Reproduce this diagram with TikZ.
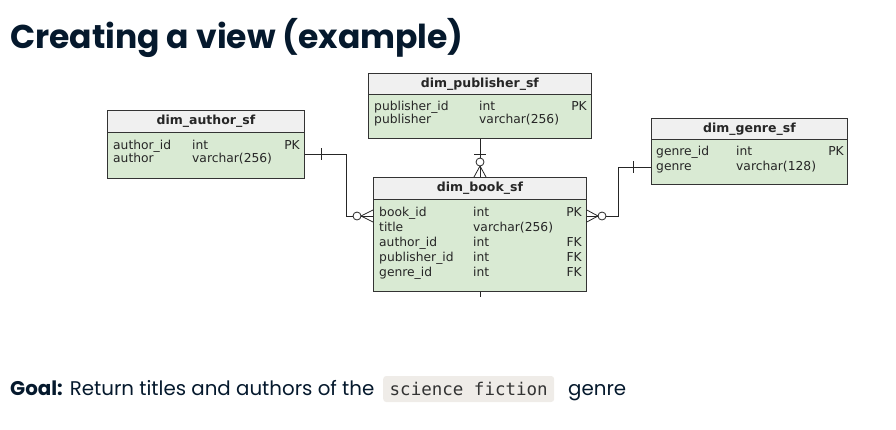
\documentclass[tikz,border=0pt]{standalone}
\usepackage{fontspec}
\setmainfont{Poppins}[Ligatures={NoCommon}]
\newfontfamily\tabfont{DejaVu Sans}
\newfontfamily\codefont{DejaVu Sans Mono}
\usetikzlibrary{calc}
\definecolor{ink}{HTML}{05192D}
\definecolor{edge}{HTML}{333333}
\definecolor{headfill}{HTML}{F0F0F0}
\definecolor{bodyfill}{HTML}{D9EAD3}
\definecolor{codefill}{HTML}{EFECE8}
\tikzset{
  tabhead/.style={draw=edge, fill=headfill, line width=0.8pt, anchor=north west,
    inner sep=0pt, font=\tabfont\bfseries\fontsize{12.5}{14}\selectfont, text=black!85},
  tabbody/.style={draw=edge, fill=bodyfill, line width=0.8pt, anchor=north west, inner sep=0pt},
  cell/.style={anchor=base west, inner sep=0pt, font=\tabfont\fontsize{12.3}{14}\selectfont, text=black!85},
  keycell/.style={anchor=base east, inner sep=0pt, font=\tabfont\fontsize{12.3}{14}\selectfont, text=black!85},
  link/.style={draw=black!85, line width=0.8pt},
  opt/.style={draw=black!85, line width=0.8pt, fill=white},
}
\begin{document}
\begin{tikzpicture}[x=1pt, y=-1pt]
\useasboundingbox (0,0) rectangle (896,429);

% title
\node[anchor=base west, inner sep=0pt, text=ink, font=\bfseries\fontsize{33}{38}\selectfont] (title) at (10,48) {Creating a view (example)};

% dim_author_sf
\node[tabhead, minimum width=197pt, minimum height=22pt] (ahead) at (107,110) {dim\_author\_sf};
\node[tabbody, minimum width=197pt, minimum height=46pt] (abody) at (107,132) {};
\node[cell] (a1n) at (113,149) {author\_id};
\node[cell] (a1t) at (192,149) {int};
\node[keycell] (a1k) at (300,149) {PK};
\node[cell] (a2n) at (113,162) {author};
\node[cell] (a2t) at (192,162) {varchar(256)};

% dim_publisher_sf
\node[tabhead, minimum width=223pt, minimum height=21pt] (phead) at (368,73) {dim\_publisher\_sf};
\node[tabbody, minimum width=223pt, minimum height=44pt] (pbody) at (368,94) {};
\node[cell] (p1n) at (374,110) {publisher\_id};
\node[cell] (p1t) at (479,110) {int};
\node[keycell] (p1k) at (587,110) {PK};
\node[cell] (p2n) at (374,123) {publisher};
\node[cell] (p2t) at (479,123) {varchar(256)};

% dim_book_sf
\node[tabhead, minimum width=213pt, minimum height=22pt] (bhead) at (373,177) {dim\_book\_sf};
\node[tabbody, minimum width=213pt, minimum height=92pt] (bbody) at (373,199) {};
\node[cell] (b1n) at (379,216) {book\_id};
\node[cell] (b1t) at (473,216) {int};
\node[keycell] (b1k) at (582,216) {PK};
\node[cell] (b2n) at (379,231) {title};
\node[cell] (b2t) at (473,231) {varchar(256)};
\node[cell] (b3n) at (379,246) {author\_id};
\node[cell] (b3t) at (473,246) {int};
\node[keycell] (b3k) at (582,246) {FK};
\node[cell] (b4n) at (379,261) {publisher\_id};
\node[cell] (b4t) at (473,261) {int};
\node[keycell] (b4k) at (582,261) {FK};
\node[cell] (b5n) at (379,276) {genre\_id};
\node[cell] (b5t) at (473,276) {int};
\node[keycell] (b5k) at (582,276) {FK};

% dim_genre_sf
\node[tabhead, minimum width=196pt, minimum height=21pt] (ghead) at (651,118) {dim\_genre\_sf};
\node[tabbody, minimum width=196pt, minimum height=45pt] (gbody) at (651,139) {};
\node[cell] (g1n) at (656,155) {genre\_id};
\node[cell] (g1t) at (736,155) {int};
\node[keycell] (g1k) at (844,155) {PK};
\node[cell] (g2n) at (656,170) {genre};
\node[cell] (g2t) at (736,170) {varchar(128)};

% relationship: author -> book
\coordinate (ajoin) at (357,216);
\draw[link] (abody.east |- 0,154) -- (346,154) -- (346,216) -- ($(ajoin)+(-4,0)$);
\draw[link] (321,148) -- (321,160);
\draw[link] ($(ajoin)+(4,0)$) -- (bbody.west |- 0,210);
\draw[link] ($(ajoin)+(4,0)$) -- (bbody.west |- 0,216);
\draw[link] ($(ajoin)+(4,0)$) -- (bbody.west |- 0,222);
\draw[opt] (ajoin) circle (4pt);

% relationship: genre -> book
\coordinate (gjoin) at (602,216);
\draw[link] (gbody.west |- 0,167) -- (618,167) -- (618,216) -- ($(gjoin)+(4,0)$);
\draw[link] (633,161) -- (633,173);
\draw[link] ($(gjoin)+(-4,0)$) -- (bbody.east |- 0,210);
\draw[link] ($(gjoin)+(-4,0)$) -- (bbody.east |- 0,216);
\draw[link] ($(gjoin)+(-4,0)$) -- (bbody.east |- 0,222);
\draw[opt] (gjoin) circle (4pt);

% relationship: publisher -> book
\coordinate (pjoin) at (480,162);
\draw[link] (pbody.south -| pjoin) -- ($(pjoin)+(0,-4)$);
\draw[link] (474,154) -- (486,154);
\draw[link] ($(pjoin)+(0,4)$) -- (474,177);
\draw[link] ($(pjoin)+(0,4)$) -- (bhead.north -| pjoin);
\draw[link] ($(pjoin)+(0,4)$) -- (486,177);
\draw[opt] (pjoin) circle (4pt);

% short stub under the book table
\coordinate (bstub) at (480,297);
\draw[link] (bbody.south -| bstub) -- (bstub);

% goal line
\node[anchor=base west, inner sep=0pt, text=ink, font=\fontsize{19.8}{24}\selectfont] (goal) at (10,395)
  {\textbf{Goal:} Return titles and authors of the};
\node[anchor=west, fill=codefill, rounded corners=3pt, minimum height=26pt, minimum width=171pt,
  inner sep=0pt, text=black!80, font=\codefont\fontsize{17.5}{20}\selectfont] (code) at (383,389) {science fiction};
\node[anchor=base west, inner sep=0pt, text=ink, font=\fontsize{19.8}{24}\selectfont] (genre) at (568,395) {genre};
\end{tikzpicture}
\end{document}
